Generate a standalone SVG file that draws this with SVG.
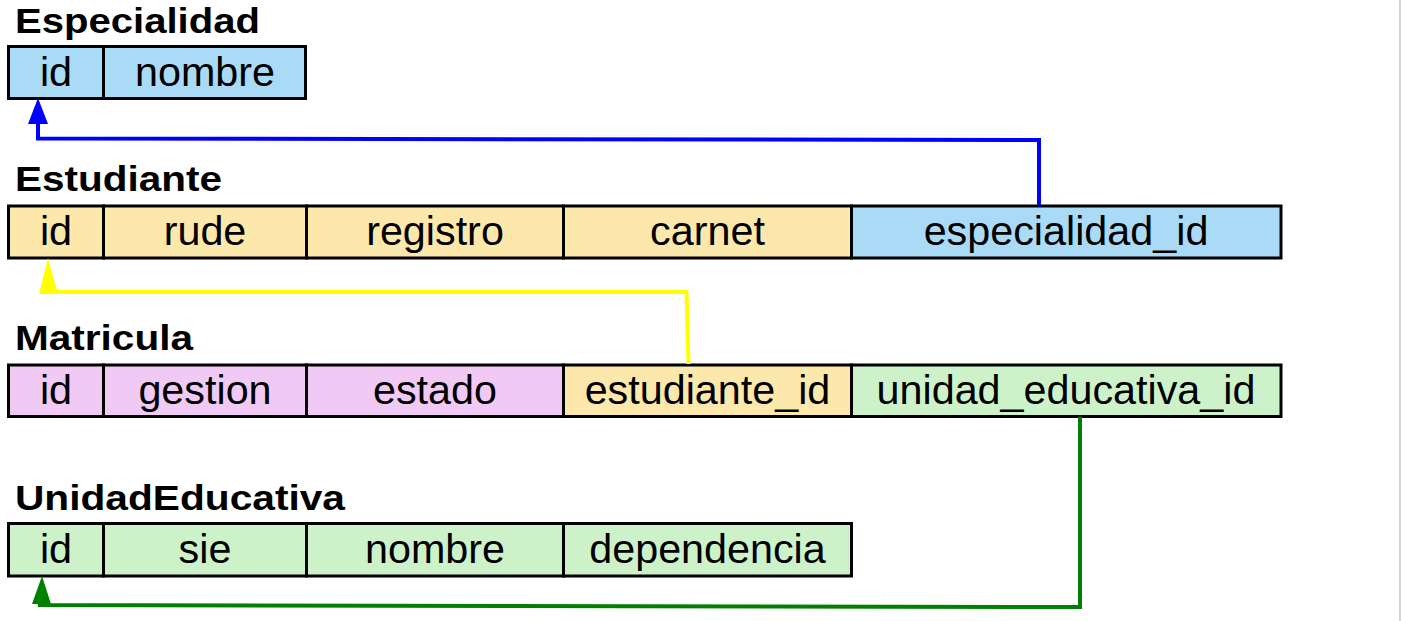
<svg xmlns="http://www.w3.org/2000/svg" width="1401" height="621" viewBox="0 0 1401 621">
<style>
.title{font-family:"Liberation Sans",Arial,sans-serif;font-weight:bold;font-size:35px;fill:#000}
.cell{stroke:#000;stroke-width:3}
.lbl{font-family:"Liberation Sans",Arial,sans-serif;font-size:41.3px;fill:#000;text-anchor:middle}
.blue{fill:#a9daf6}.yel{fill:#fce8aa}.pink{fill:#f0caf5}.grn{fill:#cdf2c9}
.con{fill:none;stroke-width:4;stroke-linejoin:miter}
</style>
<rect x="0" y="0" width="1401" height="621" fill="#fff"/>
<rect x="1399" y="0" width="2" height="621" fill="#d4d4d4"/>

<g id="Especialidad">
<text class="title" x="15" y="33" textLength="245" lengthAdjust="spacingAndGlyphs">Especialidad</text>
<rect class="cell blue" x="8.5" y="46.5" width="95" height="52"/>
<rect class="cell blue" x="103.5" y="46.5" width="202" height="52"/>
<text class="lbl" x="56" y="86">id</text>
<text class="lbl" x="205" y="86">nombre</text>
</g>

<g id="Estudiante">
<text class="title" x="15" y="191" textLength="207" lengthAdjust="spacingAndGlyphs">Estudiante</text>
<rect class="cell yel" x="8.5" y="206" width="95" height="52"/>
<rect class="cell yel" x="103.5" y="206" width="203" height="52"/>
<rect class="cell yel" x="306.5" y="206" width="257" height="52"/>
<rect class="cell yel" x="563.5" y="206" width="288" height="52"/>
<rect class="cell blue" x="851.5" y="206" width="429.5" height="52"/>
<text class="lbl" x="56" y="245">id</text>
<text class="lbl" x="205" y="245">rude</text>
<text class="lbl" x="435" y="245">registro</text>
<text class="lbl" x="707.5" y="245">carnet</text>
<text class="lbl" x="1066" y="245">especialidad_id</text>
</g>

<g id="Matricula">
<text class="title" x="15" y="350" textLength="178" lengthAdjust="spacingAndGlyphs">Matricula</text>
<rect class="cell pink" x="8.5" y="365" width="95" height="51.5"/>
<rect class="cell pink" x="103.5" y="365" width="203" height="51.5"/>
<rect class="cell pink" x="306.5" y="365" width="257" height="51.5"/>
<rect class="cell yel" x="563.5" y="365" width="288" height="51.5"/>
<rect class="cell grn" x="851.5" y="365" width="429.5" height="51.5"/>
<text class="lbl" x="56" y="404">id</text>
<text class="lbl" x="205" y="404">gestion</text>
<text class="lbl" x="435" y="404">estado</text>
<text class="lbl" x="707.5" y="404">estudiante_id</text>
<text class="lbl" x="1066" y="404">unidad_educativa_id</text>
</g>

<g id="UnidadEducativa">
<text class="title" x="15" y="510" textLength="330" lengthAdjust="spacingAndGlyphs">UnidadEducativa</text>
<rect class="cell grn" x="8.5" y="523.5" width="95" height="52.5"/>
<rect class="cell grn" x="103.5" y="523.5" width="203" height="52.5"/>
<rect class="cell grn" x="306.5" y="523.5" width="257" height="52.5"/>
<rect class="cell grn" x="563.5" y="523.5" width="288" height="52.5"/>
<text class="lbl" x="56" y="563">id</text>
<text class="lbl" x="205" y="563">sie</text>
<text class="lbl" x="435" y="563">nombre</text>
<text class="lbl" x="707.5" y="563">dependencia</text>
</g>

<g id="connectors">
<polyline class="con" stroke="#0000ff" points="1039,205 1039,140 38,138.5 38,122"/>
<polygon fill="#0000ff" points="38,98 28,124 48,124"/>
<polyline class="con" stroke="#ffff00" points="688.5,364 686.5,292 46,292"/>
<polygon fill="#ffff00" points="48,258 39,294 58,294"/>
<polyline class="con" stroke="#008000" points="1080,417 1080,607 40,605 40,602"/>
<polygon fill="#008000" points="42,576 32,604 51,604"/>
</g>
</svg>
